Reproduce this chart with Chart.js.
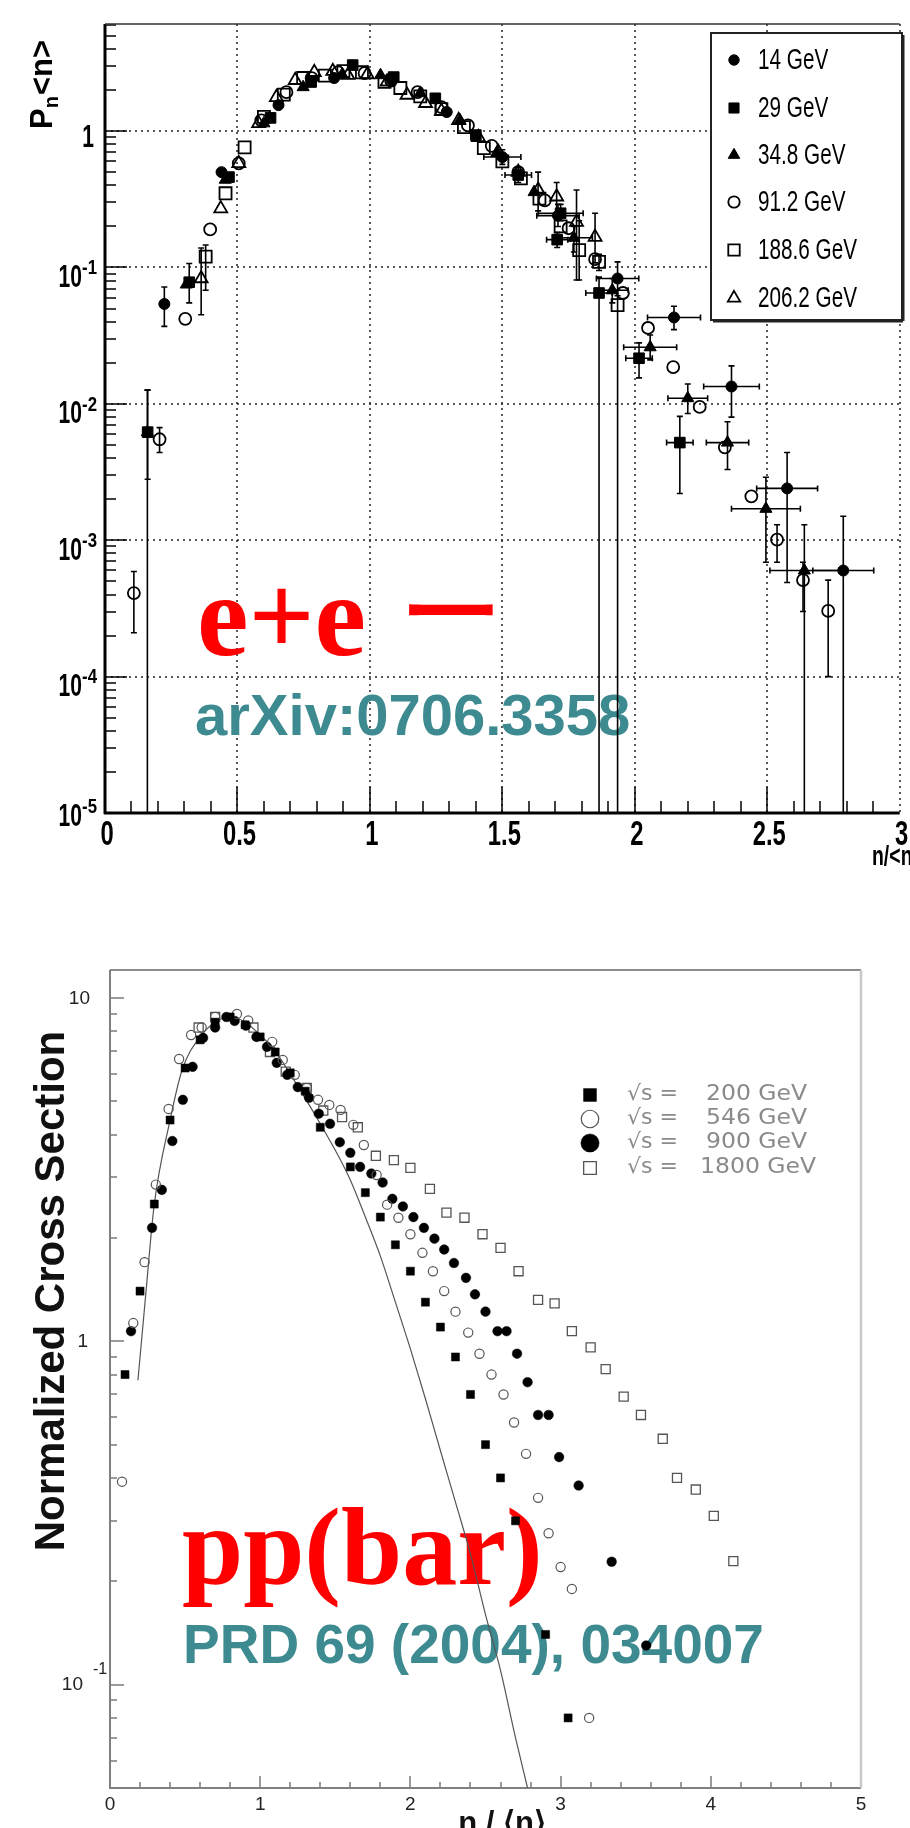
<!DOCTYPE html>
<html>
<head>
<meta charset="utf-8">
<script src="https://cdn.jsdelivr.net/npm/chart.js@4.4.1/dist/chart.umd.min.js"></script>
<style>
  html, body { margin: 0; padding: 0; background: #fff; }
  body { width: 910px; height: 1828px; position: relative; overflow: hidden; }
  canvas { position: absolute; left: 0; }
  #eeChart { top: 0; }
  #ppChart { top: 880px; }
</style>
</head>
<body>
<canvas id="eeChart" width="910" height="880"></canvas>
<canvas id="ppChart" width="910" height="948"></canvas>
<script>
// ---------- e+e- data (n/<n>, Pn<n>, error bars) ----------
const eeLabels = ["14 GeV", "29 GeV", "34.8 GeV", "91.2 GeV", "188.6 GeV", "206.2 GeV"]
const eeXTicks = [0, 0.5, 1, 1.5, 2, 2.5, 3]
const eeYExp = [-5, -4, -3, -2, -1, 0]

const x14 = [0.224, 0.44, 0.655, 0.865, 1.08, 1.29, 1.50, 1.71, 1.935, 2.148, 2.365, 2.575, 2.787]
const y14 = [0.054, 0.50, 1.55, 2.45, 2.40, 1.38, 0.645, 0.24, 0.083, 0.043, 0.0134, 0.0024, 0.0006]
const lo14 = [0.037, null, null, null, null, null, 0.57, 0.20, 0.062, 0.035, 0.008, 0.00049, 0]
const hi14 = [0.072, null, null, null, null, null, 0.73, 0.29, 0.11, 0.052, 0.019, 0.0044, 0.0015]
const xe14 = [0, 0, 0, 0, 0, 0, 0.07, 0.08, 0.08, 0.10, 0.105, 0.115, 0.115]

const x29 = [0.161, 0.318, 0.468, 0.625, 0.778, 0.935, 1.09, 1.247, 1.40, 1.56, 1.707, 1.72, 1.865, 2.016, 2.17]
const y29 = [0.0062, 0.078, 0.46, 1.25, 2.29, 3.05, 2.49, 1.74, 0.935, 0.476, 0.16, 0.25, 0.065, 0.0216, 0.0052]
const lo29 = [0.0028, 0.055, null, null, null, null, null, null, null, 0.42, 0.14, 0.22, 0, 0.0155, 0.0022]
const hi29 = [0.0126, 0.107, null, null, null, null, null, null, null, 0.54, 0.18, 0.29, 0.085, 0.028, 0.0081]
const xe29 = [0, 0, 0, 0, 0, 0, 0, 0, 0, 0.05, 0.04, 0.085, 0.05, 0.05, 0.05]

const x34 = [0.16, 0.307, 0.454, 0.60, 0.748, 0.895, 1.04, 1.19, 1.34, 1.48, 1.62, 1.77, 1.915, 2.058, 2.20, 2.35, 2.495, 2.64]
const y34 = [0.0062, 0.075, 0.44, 1.14, 2.10, 2.60, 2.57, 1.90, 1.20, 0.70, 0.357, 0.165, 0.068, 0.026, 0.011, 0.0052, 0.0017, 0.0006]
const lo34 = [0, null, null, null, null, null, null, null, null, null, null, 0.13, 0.055, 0.021, 0.0085, 0.0033, 0.00069, 0]
const hi34 = [0.0126, null, null, null, null, null, null, null, null, null, null, 0.20, 0.083, 0.032, 0.014, 0.0074, 0.0029, 0.0013]
const xe34 = [0, 0, 0, 0, 0, 0, 0, 0, 0, 0, 0, 0.07, 0.06, 0.10, 0.075, 0.08, 0.13, 0.13]

const x91 = [0.109, 0.206, 0.303, 0.397, 0.505, 0.59, 0.685, 0.78, 0.88, 0.98, 1.08, 1.18, 1.27, 1.37, 1.46, 1.56, 1.66, 1.75, 1.85, 1.955, 2.05, 2.145, 2.245, 2.34, 2.44, 2.537, 2.635, 2.73]
const y91 = [0.00041, 0.0055, 0.042, 0.19, 0.58, 1.20, 1.93, 2.45, 2.70, 2.66, 2.35, 1.93, 1.50, 1.10, 0.78, 0.50, 0.31, 0.194, 0.115, 0.065, 0.036, 0.0186, 0.0095, 0.0048, 0.0021, 0.00101, 0.00051, 0.000303]
const lo91 = [0.00021, 0.0044, null, null, null, null, null, null, null, null, null, null, null, null, null, null, null, null, null, null, null, null, null, null, null, 0.00069, 0.0003, 0.0001]
const hi91 = [0.00059, 0.0067, null, null, null, null, null, null, null, null, null, null, null, null, null, null, null, null, null, null, null, null, null, null, null, 0.0013, 0.00069, 0.00051]

const x188 = [0.38, 0.455, 0.527, 0.60, 0.675, 0.748, 0.83, 0.90, 0.97, 1.055, 1.115, 1.19, 1.27, 1.355, 1.43, 1.50, 1.57, 1.64, 1.72, 1.79, 1.865, 1.935]
const y188 = [0.12, 0.35, 0.76, 1.27, 1.85, 2.45, 2.55, 2.75, 2.70, 2.30, 2.07, 1.80, 1.45, 1.07, 0.75, 0.60, 0.45, 0.32, 0.20, 0.134, 0.11, 0.053]
const lo188 = [0.068, null, null, null, null, null, null, null, null, null, null, null, null, null, null, null, null, null, null, 0.081, 0.095, 0]
const hi188 = [0.146, null, null, null, null, null, null, null, null, null, null, null, null, null, null, null, null, null, null, 0.22, 0.125, 0.068]

const x206 = [0.363, 0.437, 0.505, 0.58, 0.647, 0.718, 0.79, 0.86, 0.917, 0.99, 1.065, 1.14, 1.21, 1.27, 1.335, 1.41, 1.485, 1.56, 1.635, 1.705, 1.78, 1.85]
const y206 = [0.083, 0.27, 0.58, 1.14, 1.77, 2.36, 2.70, 2.75, 2.57, 2.60, 2.30, 1.84, 1.60, 1.40, 1.20, 0.90, 0.70, 0.50, 0.37, 0.33, 0.215, 0.167]
const lo206 = [0.045, null, null, null, null, null, null, null, null, null, null, null, null, null, null, null, null, null, 0.26, 0.23, 0.081, 0.108]
const hi206 = [0.139, null, null, null, null, null, null, null, null, null, null, null, null, null, null, null, null, null, 0.50, 0.42, 0.37, 0.25]

// ---------- pp(bar) data (n/<n>, normalized cross section) ----------
const ppLabels = ["\u221As =  200 GeV", "\u221As =  546 GeV", "\u221As =  900 GeV", "\u221As = 1800 GeV"]
const ppXTicks = [0, 1, 2, 3, 4, 5]

const x200 = [0.10, 0.20, 0.295, 0.40, 0.50, 0.60, 0.70, 0.80, 0.90, 1.00, 1.10, 1.20, 1.30, 1.40, 1.60, 1.70, 1.80, 1.90, 2.00, 2.10, 2.20, 2.30, 2.40, 2.50, 2.60, 2.70, 2.90, 3.05]
const y200 = [0.80, 1.40, 2.51, 4.41, 6.25, 7.55, 8.5, 8.8, 8.35, 7.7, 6.96, 6.05, 5.35, 4.2, 3.22, 2.71, 2.30, 1.91, 1.60, 1.30, 1.10, 0.90, 0.70, 0.50, 0.40, 0.30, 0.14, 0.080]

const x546 = [0.08, 0.155, 0.23, 0.305, 0.39, 0.46, 0.54, 0.61, 0.70, 0.845, 0.92, 1.08, 1.15, 1.23, 1.31, 1.385, 1.46, 1.535, 1.62, 1.69, 1.775, 1.845, 1.92, 2.00, 2.08, 2.15, 2.225, 2.30, 2.385, 2.46, 2.54, 2.62, 2.69, 2.77, 2.85, 2.92, 3.00, 3.075, 3.19]
const y546 = [0.39, 1.13, 1.70, 2.86, 4.75, 6.64, 7.8, 8.2, 8.8, 8.98, 8.6, 7.45, 6.6, 5.97, 5.47, 5.05, 4.88, 4.72, 4.27, 3.73, 3.05, 2.50, 2.29, 2.05, 1.81, 1.60, 1.40, 1.22, 1.06, 0.92, 0.80, 0.70, 0.58, 0.47, 0.35, 0.276, 0.22, 0.19, 0.080]

const x900 = [0.14, 0.28, 0.345, 0.415, 0.485, 0.55, 0.62, 0.70, 0.775, 0.83, 0.905, 0.975, 1.045, 1.11, 1.18, 1.25, 1.325, 1.39, 1.465, 1.53, 1.60, 1.665, 1.74, 1.815, 1.88, 1.95, 2.02, 2.09, 2.16, 2.225, 2.29, 2.37, 2.43, 2.50, 2.58, 2.64, 2.71, 2.78, 2.85, 2.92, 2.99, 3.12, 3.34, 3.57]
const y900 = [1.07, 2.14, 2.76, 3.83, 5.05, 6.3, 7.65, 8.2, 8.8, 8.57, 8.3, 7.7, 7.2, 6.47, 5.97, 5.5, 5.12, 4.6, 4.3, 3.8, 3.54, 3.22, 3.08, 2.9, 2.6, 2.47, 2.3, 2.14, 1.99, 1.85, 1.69, 1.53, 1.37, 1.22, 1.07, 1.07, 0.92, 0.76, 0.61, 0.61, 0.46, 0.38, 0.228, 0.13]

const x1800 = [0.59, 0.70, 0.955, 1.065, 1.17, 1.31, 1.42, 1.545, 1.65, 1.77, 1.89, 2.00, 2.13, 2.24, 2.36, 2.48, 2.60, 2.72, 2.85, 2.96, 3.075, 3.20, 3.30, 3.42, 3.535, 3.68, 3.775, 3.90, 4.02, 4.15]
const y1800 = [8.2, 8.8, 8.2, 6.96, 6.1, 5.47, 4.7, 4.5, 4.2, 3.47, 3.37, 3.2, 2.78, 2.37, 2.29, 2.05, 1.87, 1.60, 1.32, 1.29, 1.07, 0.96, 0.83, 0.69, 0.61, 0.52, 0.40, 0.37, 0.31, 0.229]

// thin model curve
const xFit = [0.186, 0.24, 0.293, 0.40, 0.48, 0.60, 0.70, 0.80, 0.90, 1.0, 1.1, 1.2, 1.3, 1.4, 1.5, 1.6, 1.7, 1.8, 1.9, 2.0, 2.1, 2.2, 2.3, 2.4, 2.5, 2.6, 2.7, 2.78]
const yFit = [0.77, 1.40, 2.47, 4.41, 6.17, 7.7, 8.5, 8.8, 8.5, 7.8, 7.0, 6.0, 5.1, 4.3, 3.6, 2.95, 2.3, 1.77, 1.3, 0.95, 0.68, 0.48, 0.34, 0.24, 0.16, 0.11, 0.07, 0.05]

const eeMin = 1e-5, eeMax = 6.1
const ppMin = 0.05, ppMax = 12.06

const teal = "#3d8b90"

function pts(xs, ys) {
  return xs.map((x, i) => ({ x: x, y: ys[i] }))
}

// draw text squeezed horizontally (the plots use a narrow font)
function condText(ctx, s, x, y, font, color, align, sx) {
  ctx.save()
  ctx.font = font
  ctx.fillStyle = color
  ctx.textBaseline = "middle"
  ctx.textAlign = "left"
  const w = ctx.measureText(s).width * sx
  const x0 = align === "center" ? x - w / 2 : align === "right" ? x - w : x
  ctx.translate(x0, y)
  ctx.scale(sx, 1)
  ctx.fillText(s, 0, 0)
  ctx.restore()
  return w
}

// fit a glyph into a box
function boxText(ctx, s, left, right, top, bottom, font, color) {
  ctx.save()
  ctx.font = font
  const m = ctx.measureText(s)
  const h = m.actualBoundingBoxAscent + m.actualBoundingBoxDescent
  const w = m.actualBoundingBoxLeft + m.actualBoundingBoxRight
  ctx.translate(left, top)
  ctx.scale((right - left) / w, (bottom - top) / h)
  ctx.fillStyle = color
  ctx.textBaseline = "alphabetic"
  ctx.textAlign = "left"
  ctx.fillText(s, m.actualBoundingBoxLeft, m.actualBoundingBoxAscent)
  ctx.restore()
}

function marker(ctx, ds, x, y, scale) {
  ctx.save()
  ctx.fillStyle = ds.pointBackgroundColor
  ctx.strokeStyle = ds.pointBorderColor
  ctx.lineWidth = ds.pointBorderWidth
  Chart.helpers.drawPoint(ctx, {
    pointStyle: ds.pointStyle,
    radius: ds.pointRadius * (scale || 1),
    rotation: 0,
    borderWidth: ds.pointBorderWidth,
  }, x, y)
  ctx.restore()
}

function line(ctx, x1, y1, x2, y2) {
  ctx.beginPath()
  ctx.moveTo(x1, y1)
  ctx.lineTo(x2, y2)
  ctx.stroke()
}

// ---------- plugins ----------
const errorBars = {
  id: "errorBars",
  beforeDatasetsDraw(chart) {
    const { ctx, chartArea: a, scales: { x, y } } = chart
    ctx.save()
    ctx.beginPath()
    ctx.rect(a.left, a.top, a.right - a.left, a.bottom - a.top)
    ctx.clip()
    ctx.strokeStyle = "#000"
    ctx.lineWidth = 1.6
    chart.data.datasets.forEach((ds) => {
      if (!ds.lo) return
      ds.data.forEach((p, i) => {
        const px = x.getPixelForValue(p.x)
        const py = y.getPixelForValue(p.y)
        if (ds.lo[i] !== null && ds.lo[i] !== undefined) {
          const top = y.getPixelForValue(ds.hi[i])
          const bot = ds.lo[i] > 0 ? y.getPixelForValue(ds.lo[i]) : a.bottom
          line(ctx, px, top, px, bot)
          line(ctx, px - 3, top, px + 3, top)
          if (ds.lo[i] > 0) line(ctx, px - 3, bot, px + 3, bot)
        }
        if (ds.xe && ds.xe[i]) {
          const l = x.getPixelForValue(p.x - ds.xe[i])
          const r = x.getPixelForValue(p.x + ds.xe[i])
          line(ctx, l, py, r, py)
          line(ctx, l, py - 3, l, py + 3)
          line(ctx, r, py - 3, r, py + 3)
        }
      })
    })
    ctx.restore()
  },
}

const eeFrame = {
  id: "eeFrame",
  beforeDatasetsDraw(chart) {
    const { ctx, chartArea: a, scales: { x, y } } = chart
    ctx.save()
    // dotted grid
    ctx.strokeStyle = "#222"
    ctx.lineWidth = 1.5
    ctx.setLineDash([2, 4])
    eeXTicks.slice(1).forEach((v) => {
      const px = Math.round(x.getPixelForValue(v))
      line(ctx, px, a.top, px, a.bottom)
    })
    eeYExp.slice(1).forEach((e) => {
      const py = Math.round(y.getPixelForValue(Math.pow(10, e)))
      line(ctx, a.left, py, a.right, py)
    })
    ctx.setLineDash([])
    // inward ticks
    ctx.strokeStyle = "#000"
    ctx.lineWidth = 1.5
    eeYExp.forEach((e) => {
      for (let k = 1; k <= 9; k++) {
        const v = k * Math.pow(10, e)
        if (v > eeMax) break
        const py = Math.round(y.getPixelForValue(v))
        line(ctx, a.left, py, a.left + (k === 1 ? 22 : 11), py)
      }
    })
    for (let i = 1; i < 30; i++) {
      const px = Math.round(x.getPixelForValue(i / 10))
      line(ctx, px, a.bottom, px, a.bottom - (i % 5 === 0 ? 26 : 12))
    }
    // frame
    ctx.lineWidth = 3
    line(ctx, a.left, a.top, a.left, a.bottom + 1)
    line(ctx, a.left - 1, a.bottom, a.right, a.bottom)
    ctx.lineWidth = 1.5
    ctx.strokeStyle = "#333"
    line(ctx, a.left, a.top, a.right, a.top)

    // overlay labels
    ctx.fillStyle = "#ff0000"
    ctx.font = "bold 116px 'Liberation Serif'"
    ctx.textBaseline = "alphabetic"
    ctx.fillText("e+e", 197, 655)
    boxText(ctx, "\u30FC", 409, 493, 604, 616, "bold 100px 'Noto Sans CJK JP'", "#ff0000")
    ctx.fillStyle = teal
    ctx.font = "bold 58px 'Liberation Sans'"
    ctx.fillText("arXiv:0706.3358", 195, 735)
    ctx.restore()
  },
  afterDatasetsDraw(chart) {
    const ctx = chart.ctx
    ctx.save()
    // legend box
    ctx.fillStyle = "#fff"
    ctx.fillRect(711, 33, 191, 287)
    ctx.strokeStyle = "#222"
    ctx.lineWidth = 2
    ctx.strokeRect(711, 33, 191, 287)
    ctx.lineWidth = 3
    line(ctx, 903, 35, 903, 321)
    line(ctx, 713, 321, 903, 321)
    const rows = [60, 108, 155, 202, 250, 298]
    chart.data.datasets.forEach((ds, i) => {
      marker(ctx, ds, 734, rows[i], 0.95)
      condText(ctx, ds.label, 758, rows[i] + 1, "30px 'Liberation Sans'", "#000", "left", 0.69)
    })
    ctx.restore()
  },
  afterDraw(chart) {
    const { ctx, chartArea: a, scales: { x, y } } = chart
    ctx.save()
    eeXTicks.forEach((v) => {
      condText(ctx, String(v), x.getPixelForValue(v) + 2, 835, "bold 35px 'Liberation Sans'", "#000", "center", 0.68)
    })
    eeYExp.forEach((e) => {
      const py = y.getPixelForValue(Math.pow(10, e))
      if (e === 0) {
        condText(ctx, "1", 94, py + 7, "bold 31px 'Liberation Sans'", "#000", "right", 0.68)
        return
      }
      const shift = e === -5 ? -7 : 0
      const sw = condText(ctx, String(e), 97, py + 1 + shift, "bold 21px 'Liberation Sans'", "#000", "right", 0.8)
      condText(ctx, "10", 97 - sw, py + 11 + shift, "bold 31px 'Liberation Sans'", "#000", "right", 0.68)
    })
    // axis titles
    ctx.translate(52, 129)
    ctx.rotate(-Math.PI / 2)
    ctx.fillStyle = "#000"
    ctx.textBaseline = "alphabetic"
    ctx.font = "bold 31px 'Liberation Sans'"
    ctx.fillText("P", 0, 0)
    let w = ctx.measureText("P").width
    ctx.font = "bold 20px 'Liberation Sans'"
    ctx.fillText("n", w, 6)
    w += ctx.measureText("n").width + 1
    ctx.font = "bold 31px 'Liberation Sans'"
    ctx.fillText("<n>", w, 0)
    ctx.setTransform(1, 0, 0, 1, 0, 0)
    condText(ctx, "n/<n>", 872, 858, "bold 27px 'Liberation Sans'", "#000", "left", 0.72)
    ctx.restore()
  },
}

const ppFrame = {
  id: "ppFrame",
  beforeDatasetsDraw(chart) {
    const { ctx, chartArea: a, scales: { x, y } } = chart
    ctx.save()
    ctx.strokeStyle = "#7a7a7a"
    ctx.lineWidth = 1.5
    for (let e = -2; e <= 1; e++) {
      for (let k = 1; k <= 9; k++) {
        const v = k * Math.pow(10, e)
        if (v < ppMin || v > ppMax) continue
        const py = Math.round(y.getPixelForValue(v))
        line(ctx, a.left, py, a.left + (k === 1 ? 14 : 7), py)
      }
    }
    for (let i = 1; i < 25; i++) {
      const px = Math.round(x.getPixelForValue(i / 5))
      line(ctx, px, a.bottom, px, a.bottom - (i % 5 === 0 ? 12 : 6))
    }
    ctx.lineWidth = 2
    ctx.strokeStyle = "#808080"
    line(ctx, a.left, a.top, a.left, a.bottom + 1)
    line(ctx, a.left - 1, a.bottom, a.right, a.bottom)
    ctx.lineWidth = 1.5
    ctx.strokeStyle = "#666"
    line(ctx, a.left, a.top, a.right, a.top)
    ctx.lineWidth = 2.5
    ctx.strokeStyle = "#c8c8c8"
    line(ctx, a.right, a.top, a.right, a.bottom)

    // overlay labels
    ctx.fillStyle = "#ff0000"
    ctx.font = "bold 110px 'Liberation Serif'"
    ctx.textBaseline = "alphabetic"
    ctx.fillText("pp(bar)", 182, 1584 - 880)
    ctx.fillStyle = teal
    ctx.font = "bold 55px 'Liberation Sans'"
    ctx.fillText("PRD 69 (2004), 034007", 183, 1663 - 880)
    ctx.restore()
  },
  afterDatasetsDraw(chart) {
    const ctx = chart.ctx
    ctx.save()
    const rows = [215, 239, 263, 288]
    const numX = [706, 706, 706, 700]
    chart.data.datasets.slice(0, 4).forEach((ds, i) => {
      marker(ctx, ds, 590, rows[i], i === 0 ? 1.6 : i === 3 ? 1.4 : 1.9)
      const parts = ds.label.split("=")
      condText(ctx, parts[0].trim() + " =", 627, rows[i], "21px 'DejaVu Sans'", "#8a8a8a", "left", 1.05)
      condText(ctx, parts[1].trim(), numX[i], rows[i], "21px 'DejaVu Sans'", "#8a8a8a", "left", 1.12)
    })
    ctx.restore()
  },
  afterDraw(chart) {
    const { ctx, scales: { x, y } } = chart
    ctx.save()
    ppXTicks.forEach((v) => {
      condText(ctx, String(v), x.getPixelForValue(v), 925, "19px 'Liberation Sans'", "#222", "center", 1)
    })
    condText(ctx, "10", 90, y.getPixelForValue(10) + 1, "19px 'Liberation Sans'", "#222", "right", 1)
    condText(ctx, "1", 88, y.getPixelForValue(1), "19px 'Liberation Sans'", "#222", "right", 1)
    condText(ctx, "10", 83, y.getPixelForValue(0.1), "19px 'Liberation Sans'", "#222", "right", 1)
    condText(ctx, "-1", 93, y.getPixelForValue(0.1) - 15, "16px 'Liberation Sans'", "#222", "left", 1)
    // y title
    ctx.save()
    ctx.translate(64, 411)
    ctx.rotate(-Math.PI / 2)
    ctx.fillStyle = "#111"
    ctx.font = "bold 42px 'Liberation Sans'"
    ctx.textAlign = "center"
    ctx.textBaseline = "alphabetic"
    ctx.fillText("Normalized Cross Section", 0, 0)
    ctx.restore()
    // x title (cut by the page edge)
    ctx.fillStyle = "#111"
    ctx.font = "bold 31px 'Liberation Sans'"
    ctx.textAlign = "center"
    ctx.textBaseline = "alphabetic"
    ctx.fillText("n / \u27E8n\u27E9", 502, 953)
    ctx.restore()
  },
}

// ---------- charts ----------
document.addEventListener("DOMContentLoaded", () => {
  const eeSets = [
    { label: eeLabels[0], data: pts(x14, y14), lo: lo14, hi: hi14, xe: xe14,
      pointStyle: "circle", pointRadius: 5.5, pointBackgroundColor: "#000", pointBorderColor: "#000", pointBorderWidth: 1 },
    { label: eeLabels[1], data: pts(x29, y29), lo: lo29, hi: hi29, xe: xe29,
      pointStyle: "rect", pointRadius: 7.5, pointBackgroundColor: "#000", pointBorderColor: "#000", pointBorderWidth: 1 },
    { label: eeLabels[2], data: pts(x34, y34), lo: lo34, hi: hi34, xe: xe34,
      pointStyle: "triangle", pointRadius: 7, pointBackgroundColor: "#000", pointBorderColor: "#000", pointBorderWidth: 1 },
    { label: eeLabels[3], data: pts(x91, y91), lo: lo91, hi: hi91,
      pointStyle: "circle", pointRadius: 6, pointBackgroundColor: "rgba(0,0,0,0)", pointBorderColor: "#000", pointBorderWidth: 1.8 },
    { label: eeLabels[4], data: pts(x188, y188), lo: lo188, hi: hi188,
      pointStyle: "rect", pointRadius: 8.5, pointBackgroundColor: "rgba(0,0,0,0)", pointBorderColor: "#000", pointBorderWidth: 1.8 },
    { label: eeLabels[5], data: pts(x206, y206), lo: lo206, hi: hi206,
      pointStyle: "triangle", pointRadius: 7.5, pointBackgroundColor: "rgba(0,0,0,0)", pointBorderColor: "#000", pointBorderWidth: 1.8 },
  ]

  new Chart(document.getElementById("eeChart"), {
    type: "scatter",
    data: { datasets: eeSets },
    options: {
      responsive: false,
      animation: false,
      devicePixelRatio: 1,
      layout: { padding: { left: 105, top: 24, right: 5, bottom: 67 } },
      plugins: { legend: { display: false }, tooltip: { enabled: false } },
      scales: {
        x: { type: "linear", min: 0, max: 3, display: false },
        y: { type: "logarithmic", min: eeMin, max: eeMax, display: false },
      },
    },
    plugins: [eeFrame, errorBars],
  })

  const ppSets = [
    { label: ppLabels[0], data: pts(x200, y200),
      pointStyle: "rect", pointRadius: 5.7, pointBackgroundColor: "#000", pointBorderColor: "#000", pointBorderWidth: 0.5 },
    { label: ppLabels[1], data: pts(x546, y546),
      pointStyle: "circle", pointRadius: 4.6, pointBackgroundColor: "rgba(0,0,0,0)", pointBorderColor: "#555", pointBorderWidth: 1.2 },
    { label: ppLabels[2], data: pts(x900, y900),
      pointStyle: "circle", pointRadius: 4.8, pointBackgroundColor: "#000", pointBorderColor: "#000", pointBorderWidth: 0.5 },
    { label: ppLabels[3], data: pts(x1800, y1800),
      pointStyle: "rect", pointRadius: 6.4, pointBackgroundColor: "rgba(0,0,0,0)", pointBorderColor: "#555", pointBorderWidth: 1.3 },
    { label: "fit", data: pts(xFit, yFit), showLine: true, pointRadius: 0,
      borderColor: "#555", borderWidth: 1.2, cubicInterpolationMode: "monotone" },
  ]

  new Chart(document.getElementById("ppChart"), {
    type: "scatter",
    data: { datasets: ppSets },
    options: {
      responsive: false,
      animation: false,
      devicePixelRatio: 1,
      layout: { padding: { left: 110, top: 90, right: 49, bottom: 40 } },
      plugins: { legend: { display: false }, tooltip: { enabled: false } },
      scales: {
        x: { type: "linear", min: 0, max: 5, display: false },
        y: { type: "logarithmic", min: ppMin, max: ppMax, display: false },
      },
    },
    plugins: [ppFrame],
  })
})
</script>
</body>
</html>
